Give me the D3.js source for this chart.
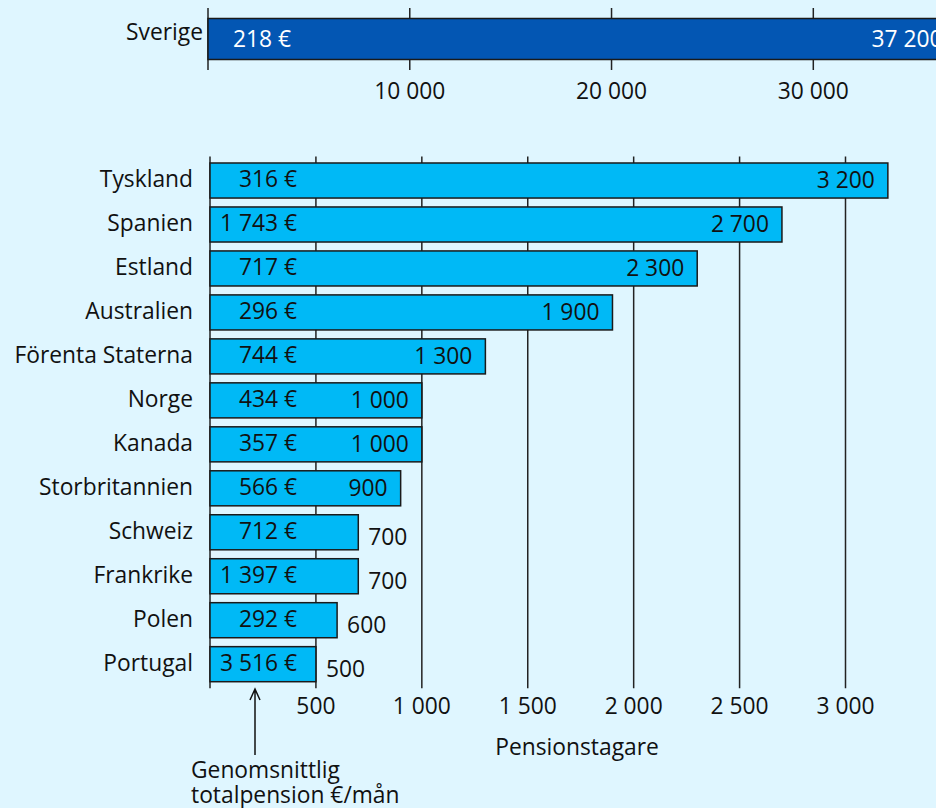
<!DOCTYPE html>
<html>
<head>
<meta charset="utf-8">
<script src="https://cdn.jsdelivr.net/npm/d3@7"></script>
<style>
  body { margin: 0; background: #dff6ff; }
  text { font-family: "Open Sans", Lato, sans-serif; font-size: 22.8px; fill: #111; }
  .grid line, .axisline { stroke: #222; stroke-width: 1.5; }
  .bar { fill: #00b9f6; stroke: #1a1a1a; stroke-width: 1.5; }
  .topbar { fill: #0356b3; stroke: #1a1a1a; stroke-width: 1.5; }
  .white { fill: #fff; }
</style>
</head>
<body>
<script>
// data
var countries = ["Tyskland", "Spanien", "Estland", "Australien", "Förenta Staterna", "Norge",
    "Kanada", "Storbritannien", "Schweiz", "Frankrike", "Polen", "Portugal"];
var pensioners = [3200, 2700, 2300, 1900, 1300, 1000, 1000, 900, 700, 700, 600, 500];
var avgPension = [316, 1743, 717, 296, 744, 434, 357, 566, 712, 1397, 292, 3516];

var swedenName = ["Sverige"];
var swedenPensioners = [37200];
var swedenPension = [218];

var topTicks = [10000, 20000, 30000];
var bottomTicks = [500, 1000, 1500, 2000, 2500, 3000];

var svgWidth = 936;
var svgHeight = 808;

var loc = d3.formatLocale({ decimal: ",", thousands: " ", grouping: [3], currency: ["", " €"] });
var fmt = loc.format(",d");

var svg = d3.select("body").append("svg")
    .attr("width", svgWidth)
    .attr("height", svgHeight);

// ---------- top chart: Sverige ----------
var xTop = d3.scaleLinear().domain([0, 30000]).range([208, 813.3]);
var yTop = d3.scaleBand().domain(swedenName).range([8, 70]).paddingInner(0).paddingOuter(0.256);

var topGroup = svg.append("g");

topGroup.append("g").attr("class", "grid")
    .selectAll("line")
    .data(topTicks)
    .enter().append("line")
    .attr("x1", d => xTop(d)).attr("x2", d => xTop(d))
    .attr("y1", 8).attr("y2", 70);

topGroup.append("line").attr("class", "axisline")
    .attr("x1", xTop(0)).attr("x2", xTop(0)).attr("y1", 8).attr("y2", 70);

topGroup.selectAll(".topbar")
    .data(swedenPensioners)
    .enter().append("rect")
    .attr("class", "topbar")
    .attr("x", xTop(0))
    .attr("y", (d, i) => yTop(swedenName[i]))
    .attr("width", d => xTop(d) - xTop(0))
    .attr("height", yTop.bandwidth());

topGroup.selectAll(".tname")
    .data(swedenName)
    .enter().append("text")
    .attr("x", xTop(0) - 5)
    .attr("y", d => yTop(d) + yTop.bandwidth() / 2 - 7)
    .attr("dy", "0.35em")
    .attr("text-anchor", "end")
    .text(d => d);

topGroup.selectAll(".tpension")
    .data(swedenPension)
    .enter().append("text")
    .attr("class", "white")
    .attr("x", 291)
    .attr("y", (d, i) => yTop(swedenName[i]) + yTop.bandwidth() / 2)
    .attr("dy", "0.35em")
    .attr("text-anchor", "end")
    .text(d => fmt(d) + " €");

topGroup.selectAll(".tcount")
    .data(swedenPensioners)
    .enter().append("text")
    .attr("class", "white")
    .attr("x", d => xTop(d) - 16)
    .attr("y", (d, i) => yTop(swedenName[i]) + yTop.bandwidth() / 2)
    .attr("dy", "0.35em")
    .attr("text-anchor", "end")
    .text(d => fmt(d));

topGroup.selectAll(".tticklabel")
    .data(topTicks)
    .enter().append("text")
    .attr("x", d => xTop(d))
    .attr("y", 91)
    .attr("dy", "0.35em")
    .attr("text-anchor", "middle")
    .text(d => fmt(d));

// ---------- bottom chart ----------
var x = d3.scaleLinear().domain([0, 3000]).range([210, 845.5]);
var y = d3.scaleBand().domain(countries).range([156.4, 688.3]).paddingInner(0.203).paddingOuter(0.15);
var yTopEdge = y.range()[0];
var yBottomEdge = y.range()[1];

var chartGroup = svg.append("g");

chartGroup.append("g").attr("class", "grid")
    .selectAll("line")
    .data(bottomTicks)
    .enter().append("line")
    .attr("x1", d => x(d)).attr("x2", d => x(d))
    .attr("y1", yTopEdge).attr("y2", yBottomEdge);

chartGroup.append("line").attr("class", "axisline")
    .attr("x1", x(0)).attr("x2", x(0)).attr("y1", yTopEdge).attr("y2", yBottomEdge);

chartGroup.selectAll(".bar")
    .data(pensioners)
    .enter().append("rect")
    .attr("class", "bar")
    .attr("x", x(0))
    .attr("y", (d, i) => y(countries[i]))
    .attr("width", d => x(d) - x(0))
    .attr("height", y.bandwidth());

chartGroup.selectAll(".cname")
    .data(countries)
    .enter().append("text")
    .attr("x", 193)
    .attr("y", d => y(d) + y.bandwidth() / 2 - 1)
    .attr("dy", "0.35em")
    .attr("text-anchor", "end")
    .text(d => d);

chartGroup.selectAll(".pension")
    .data(avgPension)
    .enter().append("text")
    .attr("x", 297)
    .attr("y", (d, i) => y(countries[i]) + y.bandwidth() / 2 - 1)
    .attr("dy", "0.35em")
    .attr("text-anchor", "end")
    .text(d => fmt(d) + " €");

// count labels: inside the bar when it is long enough, else outside
chartGroup.selectAll(".count")
    .data(pensioners)
    .enter().append("text")
    .attr("x", d => d >= 800 ? x(d) - 13 : x(d) + 10)
    .attr("y", (d, i) => y(countries[i]) + y.bandwidth() / 2 + (d >= 800 ? 0 : 5))
    .attr("dy", "0.35em")
    .attr("text-anchor", d => d >= 800 ? "end" : "start")
    .text(d => fmt(d));

chartGroup.selectAll(".ticklabel")
    .data(bottomTicks)
    .enter().append("text")
    .attr("x", d => x(d))
    .attr("y", 706)
    .attr("dy", "0.35em")
    .attr("text-anchor", "middle")
    .text(d => fmt(d));

chartGroup.append("text")
    .attr("x", 577)
    .attr("y", 747)
    .attr("dy", "0.35em")
    .attr("text-anchor", "middle")
    .text("Pensionstagare");

// arrow pointing at the euro column
var ax = 255;
chartGroup.append("path")
    .attr("d", `M${ax},755 V689 M${ax - 5},700 L${ax},689 L${ax + 5},700`)
    .attr("fill", "none")
    .attr("stroke", "#111")
    .attr("stroke-width", 1.5);

var note = chartGroup.append("text")
    .attr("x", 191).attr("y", 778);
note.append("tspan").attr("x", 191).text("Genomsnittlig");
note.append("tspan").attr("x", 191).attr("dy", 24.5).text("totalpension €/mån");
</script>
</body>
</html>
